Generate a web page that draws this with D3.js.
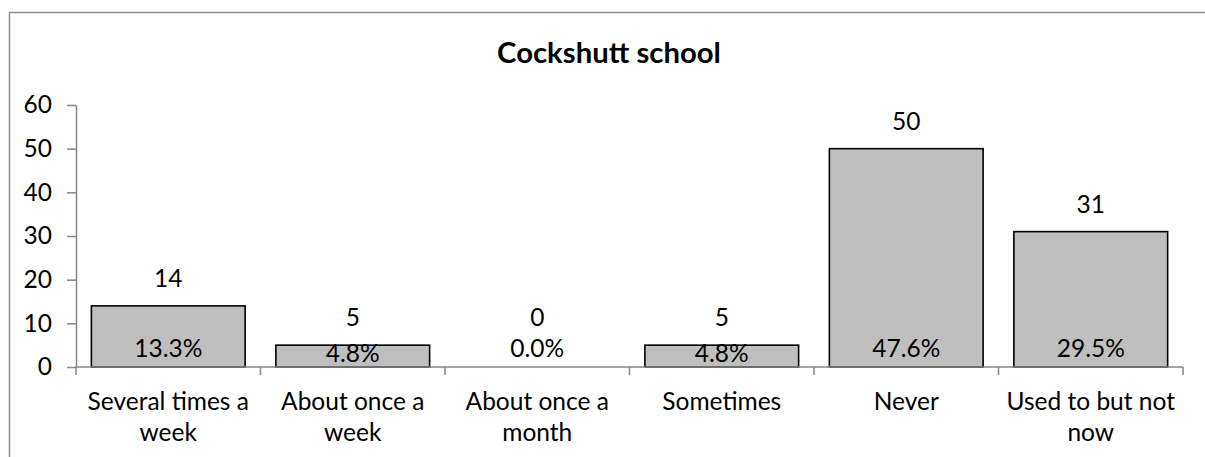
<!DOCTYPE html>
<html>
<head>
<meta charset="utf-8">
<script src="https://cdn.jsdelivr.net/npm/d3@7"></script>
<style>
  html, body { margin: 0; padding: 0; background: #fff; overflow: hidden; }
  svg { display: block; }
  text { font-family: Lato, "Open Sans", sans-serif; fill: #000; }
</style>
</head>
<body>
<svg id="chart" width="1205" height="457"></svg>
<script>
const title = "Cockshutt school";
const categories = ["Several times a week", "About once a week", "About once a month", "Sometimes", "Never", "Used to but not now"];
const categoryLines = [["Several times a", "week"], ["About once a", "week"], ["About once a", "month"], ["Sometimes"], ["Never"], ["Used to but not", "now"]];
const values = [14, 5, 0, 5, 50, 31];
const percentLabels = ["13.3%", "4.8%", "0.0%", "4.8%", "47.6%", "29.5%"];
const yTicks = [0, 10, 20, 30, 40, 50, 60];

const svg = d3.select("#chart");
const axisColor = "#868686";
const fs = 24.5;

// chart area border: only left and top edges are inside the window
svg.append("path")
  .attr("d", "M9.5,470V12.5H1220")
  .attr("fill", "none").attr("stroke", "#8c8c8c").attr("stroke-width", 1.5);

svg.append("text")
  .attr("x", 609).attr("y", 63)
  .attr("text-anchor", "middle")
  .attr("font-weight", "bold")
  .attr("font-size", 29.3)
  .text(title);

const x = d3.scaleBand().domain(categories).range([76, 1183])
  .paddingInner(1 / 6).paddingOuter(1 / 12);
const y = d3.scaleLinear().domain([0, 60]).range([367, 105]);

// y axis
const yAxis = svg.append("g").attr("transform", "translate(76,0)")
  .call(d3.axisLeft(y).tickValues(yTicks).tickSize(9).tickSizeOuter(0).tickPadding(15));
yAxis.select(".domain").attr("stroke", axisColor).attr("stroke-width", 1.5);
yAxis.selectAll(".tick line").attr("stroke", axisColor).attr("stroke-width", 1.5);
yAxis.selectAll(".tick text").attr("font-size", fs).attr("font-family", "Lato, sans-serif").attr("fill", "#000");

// bars
svg.append("g").selectAll("rect").data(values).join("rect")
  .attr("x", (d, i) => x(categories[i]))
  .attr("y", d => y(d))
  .attr("width", x.bandwidth())
  .attr("height", d => y(0) - y(d))
  .attr("fill", "#bfbfbf")
  .attr("stroke", d => d > 0 ? "#000" : "none")
  .attr("stroke-width", 1.6);

// x axis line and category tick marks
const step = x.step();
const bounds = categories.map(c => x(c) - x.paddingOuter() * step).concat([x.range()[1]]);
svg.append("line")
  .attr("x1", 76).attr("x2", x.range()[1])
  .attr("y1", y(0)).attr("y2", y(0))
  .attr("stroke", axisColor).attr("stroke-width", 1.5);
svg.append("g").selectAll("line").data(bounds).join("line")
  .attr("x1", d => d).attr("x2", d => d)
  .attr("y1", y(0)).attr("y2", y(0) + 8)
  .attr("stroke", axisColor).attr("stroke-width", 1.5);

// category labels
const cx = i => x(categories[i]) + x.bandwidth() / 2;
const lab = svg.append("g").selectAll("text").data(categoryLines).join("text")
  .attr("text-anchor", "middle")
  .attr("font-size", fs)
  .attr("x", (d, i) => cx(i))
  .attr("y", 410);
lab.selectAll("tspan").data(d => d).join("tspan")
  .attr("x", function () { return d3.select(this.parentNode).attr("x"); })
  .attr("dy", (d, j) => j === 0 ? 0 : 31)
  .text(d => d);

// value labels above bars
svg.append("g").selectAll("text").data(values).join("text")
  .attr("text-anchor", "middle")
  .attr("font-size", fs)
  .attr("x", (d, i) => cx(i))
  .attr("y", d => Math.min(y(d), y(0) - 22) - 19)
  .text(d => d);

// percentage labels inside base
svg.append("g").selectAll("text").data(percentLabels).join("text")
  .attr("text-anchor", "middle")
  .attr("font-size", fs)
  .attr("x", (d, i) => cx(i))
  .attr("y", (d, i) => {
    const h = y(0) - y(values[i]);
    return (h > 0 && h < 30) ? (y(values[i]) + y(0)) / 2 + 6 : 357;
  })
  .text(d => d);
</script>
</body>
</html>
